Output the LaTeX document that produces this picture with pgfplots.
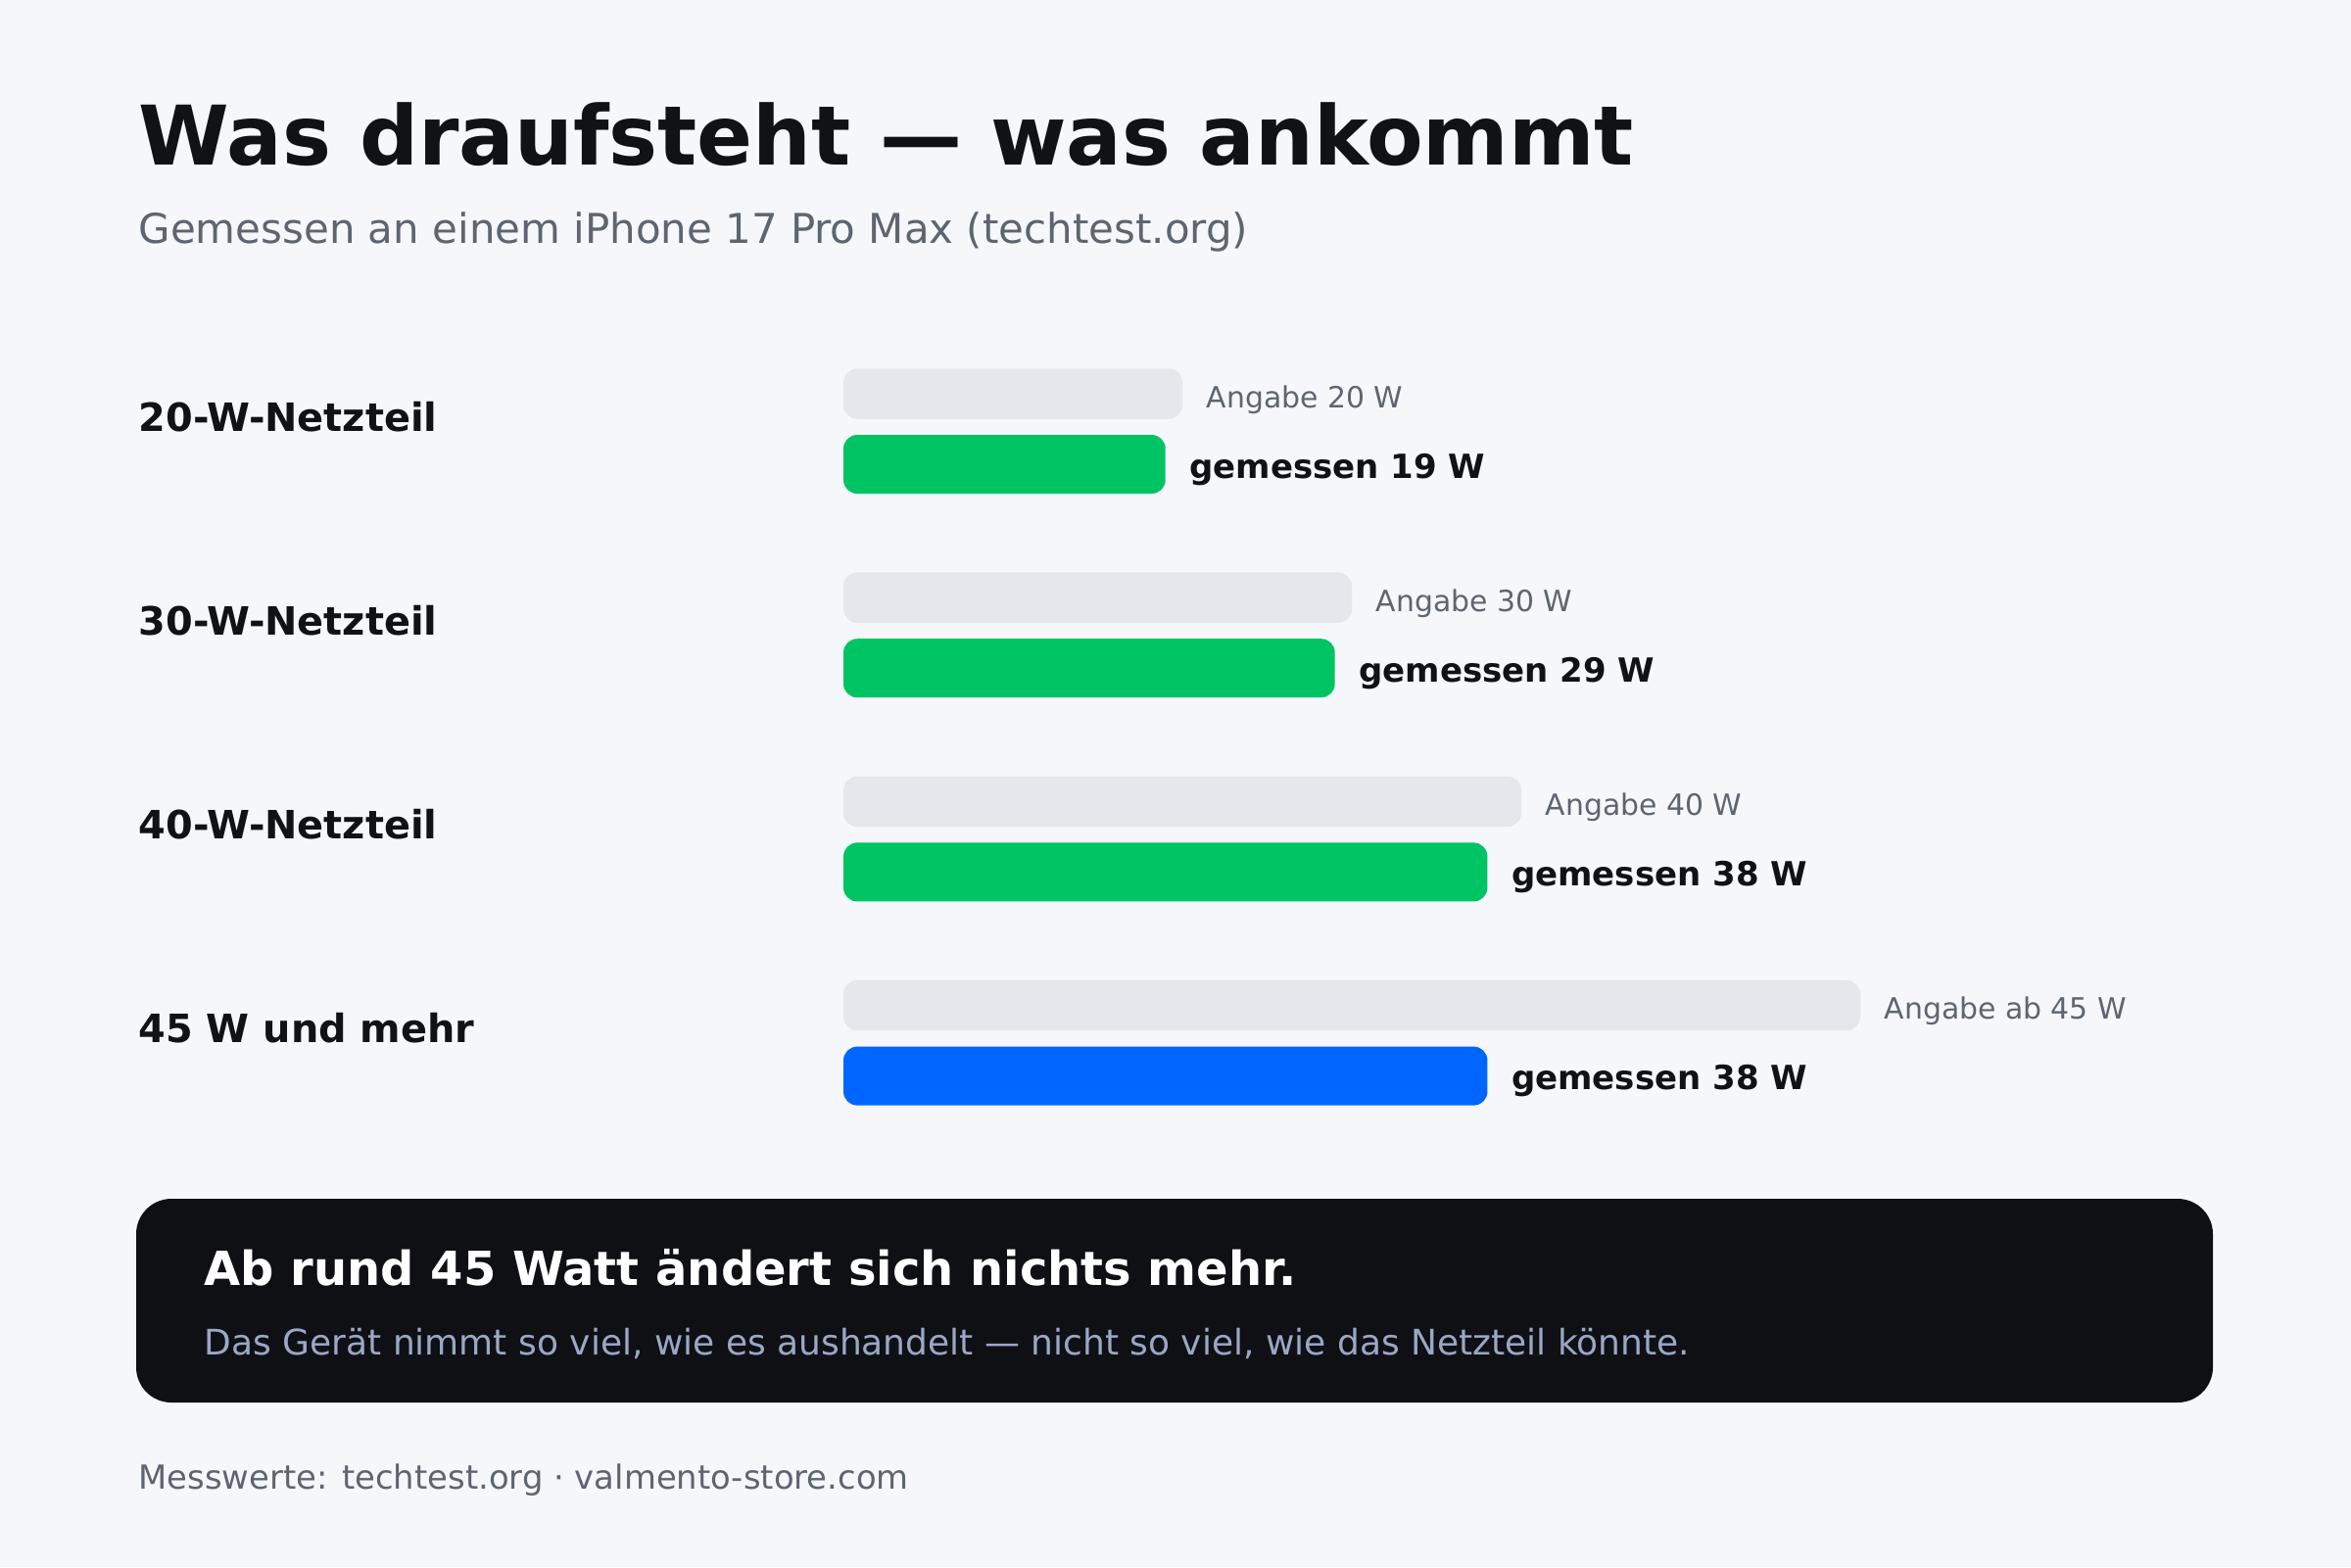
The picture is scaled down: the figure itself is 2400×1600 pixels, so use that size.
\documentclass[border=0pt]{standalone}
\usepackage{fontspec}
\setmainfont{DejaVu Sans}
\usepackage{pgfplots}
\pgfplotsset{compat=1.18}

\definecolor{bg}{HTML}{F5F7FA}
\definecolor{spec}{HTML}{E5E7EC}
\definecolor{meas}{HTML}{00C464}
\definecolor{maxblue}{HTML}{0066FF}
\definecolor{ink}{HTML}{111214}
\definecolor{muted}{HTML}{5E6571}
\definecolor{boxbg}{HTML}{0F1014}
\definecolor{boxsub}{HTML}{9AA7C6}

\begin{document}
\begin{tikzpicture}
% page frame in reference pixels (0.1mm each), y downwards
\begin{scope}[x=0.1mm,y=-0.1mm]
  \fill[bg] (0,0) rectangle (2400,1600);
  \node[anchor=base west, inner sep=0pt, text=ink, font=\fontsize{23.9}{29}\selectfont\bfseries]
    at (141,168) {Was draufsteht — was ankommt};
  \node[anchor=base west, inner sep=0pt, text=muted, font=\fontsize{11.93}{14}\selectfont]
    at (141,248) {Gemessen an einem iPhone 17 Pro Max (techtest.org)};
  \foreach \lab [count=\i from 0] in {20-W-Netzteil,30-W-Netzteil,40-W-Netzteil,45 W und mehr}
    \node[anchor=base west, inner sep=0pt, text=ink, font=\fontsize{11.33}{14}\selectfont\bfseries]
      at (141,440.3+208.2*\i) {\lab};
  \fill[boxbg, rounded corners=3.6mm] (139,1224) rectangle (2259,1432);
  \node[anchor=base west, inner sep=0pt, text=white, font=\fontsize{13.65}{16}\selectfont\bfseries]
    at (208,1312) {Ab rund 45 Watt ändert sich nichts mehr.};
  \node[anchor=base west, inner sep=0pt, text=boxsub, font=\fontsize{10.24}{12}\selectfont]
    at (208,1383) {Das Gerät nimmt so viel, wie es aushandelt — nicht so viel, wie das Netzteil könnte.};
  \node[anchor=base west, inner sep=0pt, text=muted, font=\fontsize{9.63}{11}\selectfont]
    at (141,1520) {Messwerte: techtest.org · valmento-store.com};
\end{scope}

\begin{axis}[
    at={(0,0)}, anchor=north west,
    scale only axis, width=240mm, height=160mm,
    xmin=-49.77, xmax=88.96,
    ymin=0, ymax=1600, y dir=reverse,
    hide axis, clip=false,
    xbar, bar shift=0pt,
    point meta=explicit symbolic,
    nodes near coords,
    nodes near coords style={anchor=base west, inner sep=0pt, xshift=2.4mm, yshift=-1.4mm},
]
% Angabe (rated power); the last bar is drawn longer in the reference
\addplot[fill=spec, draw=none, bar width=51.5, rounded corners=1.4mm,
  nodes near coords style={text=muted, font=\fontsize{8.5}{10}\selectfont}]
  coordinates {(20,402) [Angabe 20 W] (30,610.2) [Angabe 30 W] (40,818.4) [Angabe 40 W] (60,1026.6) [Angabe ab 45 W]};
% gemessen (measured power)
\addplot[fill=meas, draw=none, bar width=60, rounded corners=1.4mm,
  nodes near coords style={text=ink, font=\fontsize{9.67}{12}\selectfont\bfseries}]
  coordinates {(19,474) [gemessen 19 W] (29,682.2) [gemessen 29 W] (38,890.4) [gemessen 38 W]};
\addplot[fill=maxblue, draw=none, bar width=60, rounded corners=1.4mm,
  nodes near coords style={text=ink, font=\fontsize{9.67}{12}\selectfont\bfseries}]
  coordinates {(38,1098.6) [gemessen 38 W]};
\end{axis}
\end{tikzpicture}
\end{document}
